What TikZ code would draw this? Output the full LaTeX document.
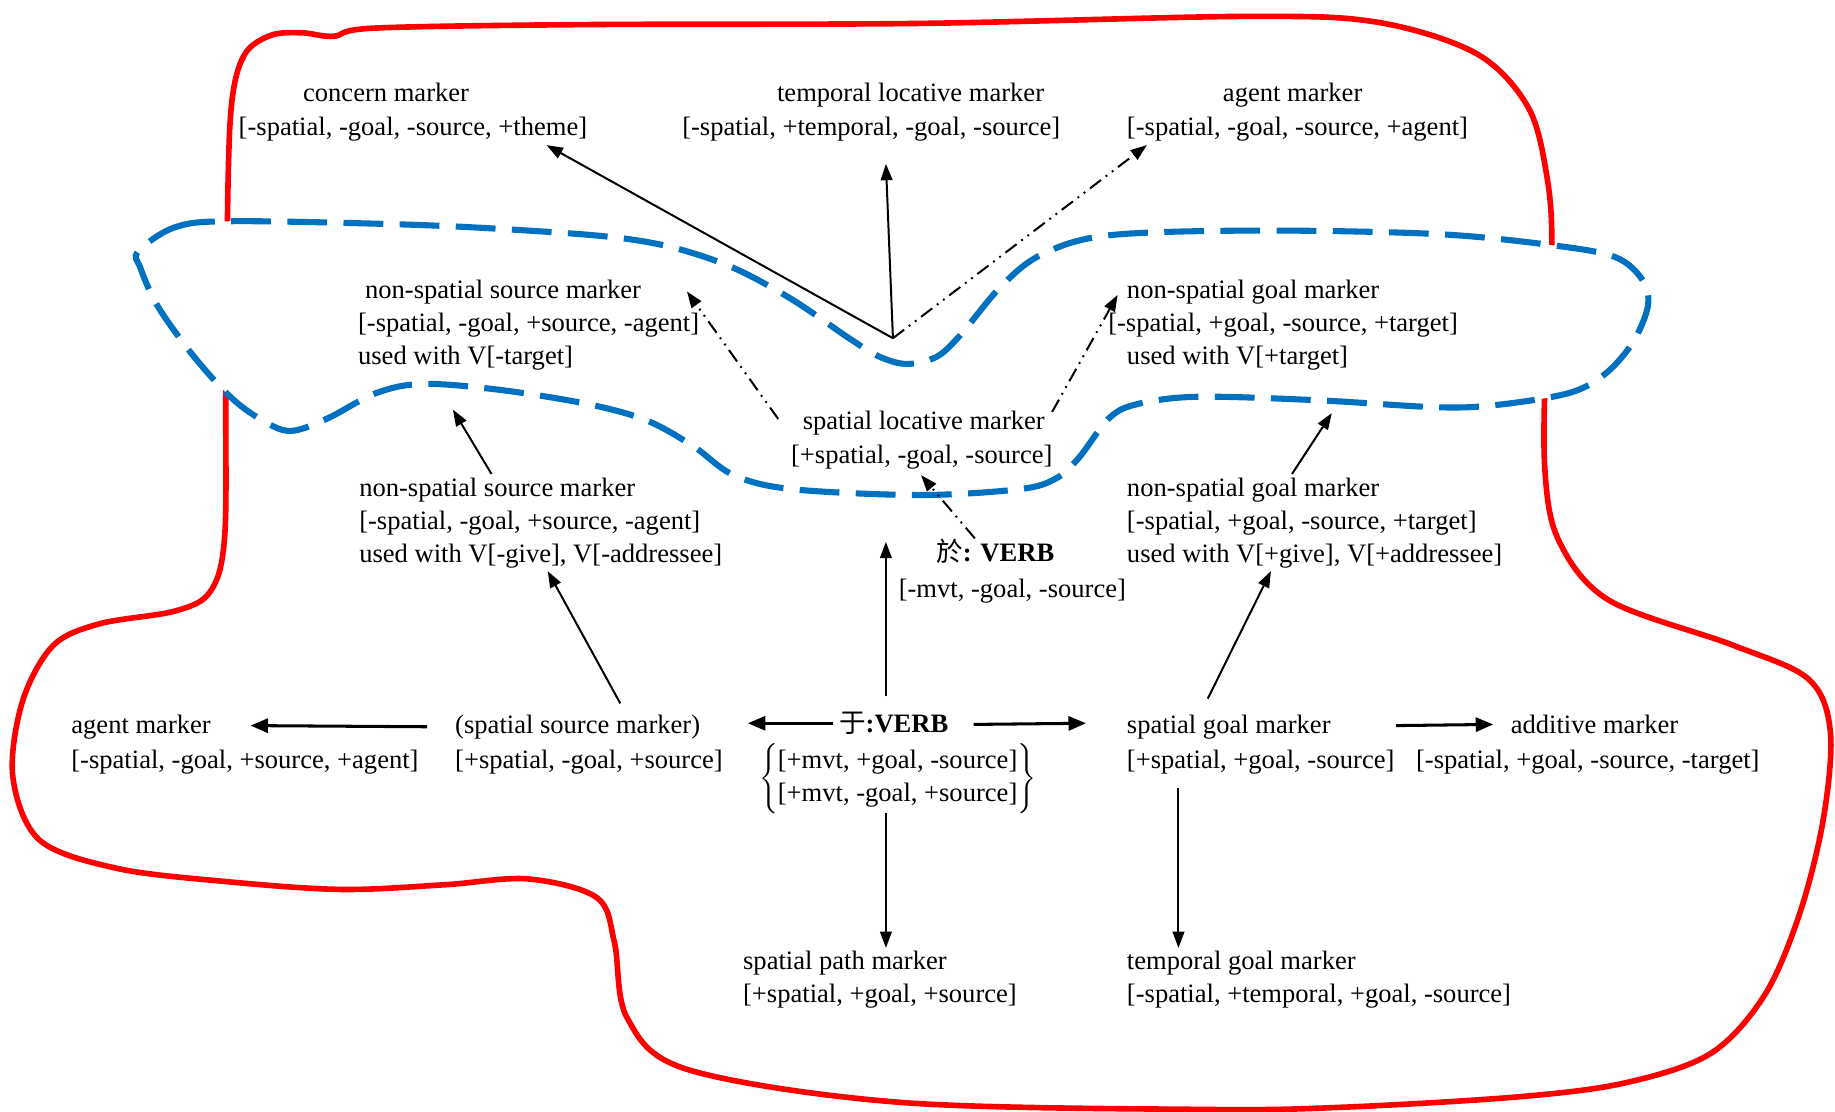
\documentclass[tikz,border=0pt]{standalone}
\usepackage{fontspec}
\setmainfont{Liberation Serif}
\newfontfamily\cjk{Noto Sans CJK SC}
\usetikzlibrary{arrows.meta,calc}
\definecolor{outlinered}{RGB}{255,0,0}
\definecolor{groupblue}{RGB}{0,112,192}
% stacked lines, baseline on the first line
\newcommand{\mklines}[1]{\begin{tabular}[t]{@{}l@{}}#1\end{tabular}}
\begin{document}
\begin{tikzpicture}[x=0.5pt,y=-0.5pt,
  lbl/.style={inner sep=0pt, outer sep=0pt, anchor=base west,
    font=\fontsize{11.35pt}{14.2pt}\selectfont},
  arr/.style={line width=0.85pt, -{Triangle[length=7pt,width=5pt]}},
  harr/.style={line width=1.3pt, -{Triangle[length=7.5pt,width=6pt]}},
  dd/.style={arr, dash pattern=on 6pt off 2.5pt on 0.8pt off 2.5pt on 0.8pt off 2.5pt},
  redline/.style={draw=outlinered, line width=2.4pt},
  blueline/.style={draw=groupblue, fill=white, line width=2.6pt,
    dash pattern=on 17pt off 7pt},
]
\useasboundingbox (0,0) rectangle (1568,950);

% outer red region
\draw[redline] plot[smooth cycle, tension=0.55] coordinates {
  (193,330) (195,150) (199,80) (210,45) (232,30) (258,28) (285,31) (320,24)
  (500,21) (786,20) (1065,14) (1177,19) (1262,46) (1306,92) (1322,152)
  (1326,210) (1321,300) (1320,400) (1332,462) (1375,513) (1480,551)
  (1545,580) (1564,625) (1558,700) (1538,780) (1508,850) (1462,900)
  (1390,925) (1300,937) (1150,946) (1030,948) (770,942) (588,914)
  (536,870) (525,805) (510,767) (451,751)
  (380,756) (291,760) (190,753) (100,742) (34,718) (11,664) (19,600)
  (45,552) (85,533) (150,522) (180,505) (192,458)};

% inner blue dashed region
\draw[blueline] plot[smooth cycle, tension=0.55] coordinates {
  (118,215) (150,194) (200,189) (351,192) (451,197) (527,203) (577,212)
  (627,229) (677,256) (727,290) (752,305) (775,311) (800,305) (820,287)
  (856,244) (891,217) (948,201) (1075,197) (1228,200) (1330,210)
  (1381,220) (1404,240) (1408,262) (1395,293) (1371,320) (1340,336)
  (1279,346) (1228,348) (1126,342) (1024,339) (973,345) (948,357)
  (922,391) (902,409) (871,418) (786,423) (677,418) (627,406) (592,381)
  (552,359) (501,345) (426,333) (361,328) (321,336) (281,357) (251,368)
  (231,363) (200,342) (166,305) (135,262) (120,229)};

% top row
\node[lbl] (concern) at (204,87) {\mklines{\hspace*{27.5pt}concern marker\\{}[-spatial, -goal, -source, +theme]}};
\node[lbl] (temploc) at (583,87) {\mklines{\hspace*{40.5pt}temporal locative marker\\{}[-spatial, +temporal, -goal, -source]}};
\node[lbl] (agenttop) at (963,87) {\mklines{\hspace*{41pt}agent marker\\{}[-spatial, -goal, -source, +agent]}};

% inside the blue region
\node[lbl] (nssrctop) at (306,255) {\mklines{\hspace*{3pt}non-spatial source marker\\{}[-spatial, -goal, +source, -agent]\\used with V[-target]}};
\node[lbl] (nsgoaltop) at (947,255) {\mklines{\hspace*{8pt}non-spatial goal marker\\{}[-spatial, +goal, -source, +target]\\\hspace*{8pt}used with V[+target]}};
\node[lbl] (sploc) at (676,367) {\mklines{\hspace*{5pt}spatial locative marker\\[0.3pt]{}[+spatial, -goal, -source]}};

% middle row
\node[lbl] (nssrclow) at (307,424) {\mklines{non-spatial source marker\\{}[-spatial, -goal, +source, -agent]\\used with V[-give], V[-addressee]}};
\node[lbl] (nsgoallow) at (963,424) {\mklines{non-spatial goal marker\\{}[-spatial, +goal, -source, +target]\\used with V[+give], V[+addressee]}};
\node[lbl] (yuverb) at (768,480) {\mklines{\hspace*{16pt}{\cjk 於}\textbf{: VERB}\\[1pt]{}[-mvt, -goal, -source]}};

% bottom row
\node[lbl] (agentlow) at (61,627) {\mklines{agent marker\\[0.8pt]{}[-spatial, -goal, +source, +agent]}};
\node[lbl] (spsrc) at (389,627) {\mklines{(spatial source marker)\\[0.8pt]{}[+spatial, -goal, +source]}};
\node[lbl] (yu) at (717,626) {{\cjk 于}\textbf{:VERB}};
\node[inner sep=0pt, font=\fontsize{11.35pt}{14.2pt}\selectfont] (yufeat) at (767,665)
  {$\left\{\begin{tabular}{@{}l@{}}[+mvt, +goal, -source]\\{}[+mvt, -goal, +source]\end{tabular}\right\}$};
\node[lbl] (sgoal) at (963,627) {\mklines{spatial goal marker\\[0.8pt]{}[+spatial, +goal, -source]}};
\node[lbl] (additive) at (1210,627) {\mklines{\hspace*{40.5pt}additive marker\\[0.8pt]{}[-spatial, +goal, -source, -target]}};
\node[lbl] (sppath) at (635,828) {\mklines{spatial path marker\\{}[+spatial, +goal, +source]}};
\node[lbl] (tgoal) at (963,828) {\mklines{temporal goal marker\\{}[-spatial, +temporal, +goal, -source]}};

% connectors
\coordinate (hub) at (763,289);
\draw[arr] (hub) -- ($(concern.base west)+(263,37)$);
\draw[arr] (hub) -- ($(temploc.base west)+(174,53)$);
\draw[dd] (hub) -- ($(agenttop.base west)+(17,37)$);
\draw[dd] ($(sploc.base west)+(-11,-9)$) -- ($(nssrctop.base west)+(281,-6)$);
\draw[dd] ($(sploc.base west)+(223,-15)$) -- ($(nsgoaltop.base west)+(8,-3)$);
\draw[dd] ($(yuverb.base west)+(65,-20)$) -- ($(sploc.base west)+(111,39)$);
\draw[arr] ($(nssrclow.base west)+(113,-19)$) -- ($(nssrctop.base west)+(81,95)$);
\draw[arr] ($(nsgoallow.base west)+(141,-19)$) -- ($(nsgoaltop.base west)+(191,98)$);
\draw[arr] ($(yu.base west)+(40,-31)$) -- ($(yuverb.base west)+(-11,-17)$);
\draw[arr] ($(spsrc.base west)+(141,-26)$) -- ($(nssrclow.base west)+(161,64)$);
\draw[harr] ($(spsrc.base west)+(-24,-6)$) -- ($(agentlow.base west)+(153,-7)$);
\draw[harr] ($(yu.base west)+(-5,-8)$) -- ($(spsrc.base west)+(250,-9)$);
\draw[harr] ($(yu.base west)+(115,-7)$) -- ($(sgoal.base west)+(-35,-9)$);
\draw[arr] ($(sgoal.base west)+(69,-30)$) -- ($(nsgoallow.base west)+(123,64)$);
\draw[harr] ($(sgoal.base west)+(230,-7)$) -- ($(additive.base west)+(66,-8)$);
\draw[arr] ($(sgoal.base west)+(44,46)$) -- ($(tgoal.base west)+(44,-18)$);
\draw[arr] ($(yu.base west)+(40,69)$) -- ($(sppath.base west)+(122,-18)$);
\end{tikzpicture}
\end{document}
